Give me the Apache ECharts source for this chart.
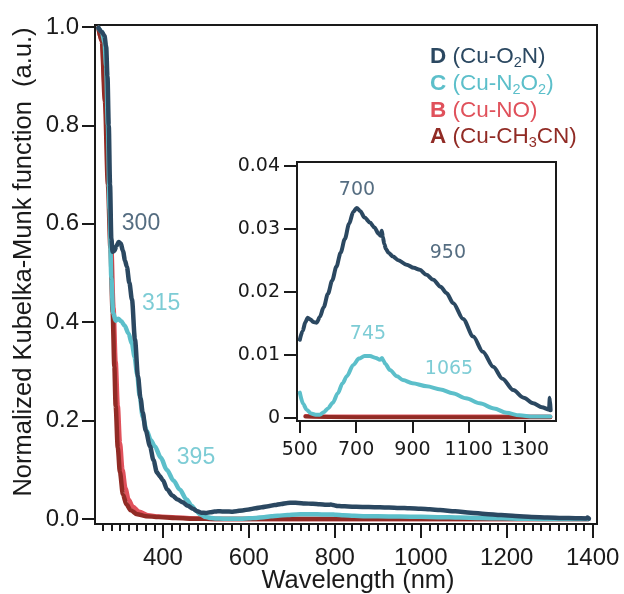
<!DOCTYPE html>
<html>
<head>
<meta charset="utf-8">
<script src="https://cdn.jsdelivr.net/npm/echarts@6/dist/echarts.min.js"></script>
<style>
  html, body { margin: 0; background: #fff; }
  #chart { width: 624px; height: 594px; }
</style>
</head>
<body>
<div id="chart"></div>
<script>
// Wavelengths (nm) and normalized K-M values
const dWave = [250, 258, 264, 268, 271, 274, 277, 280, 283, 287, 292, 297, 302, 307, 312, 316, 322, 328, 335, 342, 348, 353, 360, 370, 378, 386, 393, 400, 410, 422, 434, 446, 458, 470, 480, 490, 500, 510, 520, 528, 538, 548, 560, 571, 585, 600, 615, 630, 645, 660, 675, 690, 702, 715, 730, 749, 765, 780, 787, 791, 795, 800, 806, 815, 831, 850, 879, 905, 926, 950, 974, 1000, 1021, 1045, 1080, 1116, 1150, 1187, 1220, 1258, 1295, 1329, 1360, 1385, 1388, 1391];
const dValue = [0.998, 0.99, 0.982, 0.96, 0.9, 0.8, 0.68, 0.57, 0.543, 0.545, 0.555, 0.563, 0.56, 0.545, 0.525, 0.513, 0.48, 0.446, 0.365, 0.29, 0.245, 0.217, 0.18, 0.148, 0.12, 0.095, 0.087, 0.079, 0.06, 0.048, 0.04, 0.034, 0.027, 0.021, 0.016, 0.013, 0.0124, 0.0138, 0.0152, 0.0159, 0.0156, 0.0152, 0.0151, 0.016, 0.0176, 0.0197, 0.0218, 0.024, 0.0262, 0.0284, 0.0308, 0.0327, 0.0333, 0.0328, 0.0318, 0.031, 0.0302, 0.0292, 0.0289, 0.0297, 0.0287, 0.0276, 0.0268, 0.0262, 0.0256, 0.025, 0.0243, 0.0238, 0.0235, 0.0227, 0.0219, 0.0208, 0.0198, 0.0182, 0.0157, 0.0129, 0.0105, 0.0081, 0.0062, 0.0044, 0.0032, 0.0023, 0.0017, 0.0013, 0.0032, 0.0012];

const cWave = [250, 258, 264, 268, 272, 276, 280, 284, 290, 296, 303, 311, 320, 328, 334, 340, 346, 353, 362, 372, 381, 395, 409, 425, 439, 455, 467, 477, 486, 500, 512, 524, 540, 556, 571, 585, 600, 617, 635, 652, 667, 690, 710, 730, 749, 770, 785, 792, 797, 803, 820, 845, 866, 900, 951, 1000, 1043, 1090, 1139, 1190, 1234, 1280, 1328, 1360, 1390];
const cValue = [0.998, 0.99, 0.97, 0.92, 0.8, 0.63, 0.49, 0.42, 0.403, 0.407, 0.402, 0.393, 0.377, 0.356, 0.33, 0.295, 0.25, 0.208, 0.18, 0.16, 0.148, 0.125, 0.1, 0.078, 0.06, 0.04, 0.027, 0.017, 0.01, 0.004, 0.0022, 0.0013, 0.0007, 0.0005, 0.0005, 0.0009, 0.0015, 0.0024, 0.0039, 0.0055, 0.0066, 0.0084, 0.0094, 0.0098, 0.0098, 0.0095, 0.0092, 0.0095, 0.0091, 0.0086, 0.0076, 0.0066, 0.006, 0.0055, 0.005, 0.0045, 0.0039, 0.0031, 0.0023, 0.0015, 0.0008, 0.0004, 0.0002, 0.0002, 0.0002];

const bWave = [250, 258, 266, 273, 280, 285, 290, 295, 300, 306, 313, 320, 330, 345, 365, 390, 430, 480, 520, 700, 1000, 1390];
const bValue = [0.998, 0.97, 0.86, 0.7, 0.55, 0.43, 0.32, 0.23, 0.155, 0.1, 0.062, 0.04, 0.025, 0.015, 0.008, 0.005, 0.003, 0.0012, 0.0003, 0.0002, 0.0002, 0.0002];

const aWave = [250, 258, 265, 272, 278, 283, 287, 290, 295, 300, 307, 315, 325, 340, 360, 390, 430, 480, 520, 700, 1000, 1390];
const aValue = [0.998, 0.97, 0.85, 0.68, 0.55, 0.42, 0.31, 0.23, 0.145, 0.095, 0.05, 0.03, 0.018, 0.01, 0.006, 0.004, 0.002, 0.0008, 0.0002, 0.0001, 0.0001, 0.0001];

// Tick labels
const mainXTicks = [400, 600, 800, 1000, 1200, 1400];
const mainYTicks = [0, 0.2, 0.4, 0.6, 0.8, 1.0];
const insetXTicks = [500, 700, 900, 1100, 1300];
const insetYTicks = [0, 0.01, 0.02, 0.03, 0.04];

// Peak annotations: [wavelength, value, text, series]
const mainNotes = [[349, 0.6, '300', 'D'], [396, 0.437, '315', 'C'], [477, 0.124, '395', 'C']];
const insetNotes = [[703, 0.0362, '700', 'D'], [1026, 0.0262, '950', 'D'], [742, 0.0133, '745', 'C'], [1030, 0.0078, '1065', 'C']];

const colors = { D: '#2b4861', C: '#5cbfca', B: '#e0515b', A: '#912b25' };
const ink = '#1a1a1a';
const mainFont = '"Liberation Sans", Arial, sans-serif';
const insetFont = '"DejaVu Sans", sans-serif';

const minorTicks = [];
for (let w = 260; w <= 1400; w += 20) minorTicks.push(w);

const pairs = (w, v) => w.map((x, i) => [x, v[i]]);
const insetPart = (w, v) => pairs(w, v).filter(p => p[0] >= 500);

const chart = echarts.init(document.getElementById('chart'), null, { renderer: 'canvas' });

const line = (data, color, width, xi, yi, z) => ({
  type: 'line',
  xAxisIndex: xi,
  yAxisIndex: yi,
  data,
  symbol: 'none',
  smooth: 0.3,
  smoothMonotone: 'x',
  lineStyle: { color, width, cap: 'round', join: 'round' },
  z,
  silent: true
});

const notes = (list, xi, yi, font, size) => ({
  type: 'scatter',
  xAxisIndex: xi,
  yAxisIndex: yi,
  symbolSize: 1,
  itemStyle: { color: 'transparent' },
  silent: true,
  z: 10,
  data: list.map(n => ({
    value: [n[0], n[1]],
    label: {
      show: true, position: 'inside', formatter: n[2],
      color: colors[n[3]], fontSize: size, fontFamily: font
    }
  }))
});

const axisLineStyle = { show: true, onZero: false, lineStyle: { color: ink, width: 2 } };
const plain = v => String(v);

const legendRows = [
  ['D', '{k|D}{t| (Cu-O}{s|2}{t|N)}'],
  ['C', '{k|C}{t| (Cu-N}{s|2}{t|O}{s|2}{t|)}'],
  ['B', '{k|B}{t| (Cu-NO)}'],
  ['A', '{k|A}{t| (Cu-CH}{s|3}{t|CN)}']
];

const legendText = (row, i) => {
  const c = colors[row[0]];
  return {
    type: 'text',
    x: 430,
    y: 57 + i * 26.7,
    z: 20,
    style: {
      text: row[1],
      fill: c,
      verticalAlign: 'middle',
      rich: {
        k: { fontSize: 22.5, fontWeight: 'bold', fontFamily: mainFont, fill: c },
        t: { fontSize: 22.5, fontFamily: mainFont, fill: c },
        s: { fontSize: 14.5, fontFamily: mainFont, fill: c, padding: [12, 0, 0, 0] }
      }
    }
  };
};

const axisTitle = (text, x, y, rotation) => ({
  type: 'text',
  x, y, rotation,
  z: 20,
  style: {
    text,
    fill: ink,
    font: '25.5px "Liberation Sans", Arial, sans-serif',
    align: 'center',
    verticalAlign: 'middle'
  }
});

const option = {
  animation: false,
  backgroundColor: '#fff',
  grid: [
    { left: 95, top: 25, width: 502, height: 499, show: true, borderColor: ink, borderWidth: 2, outerBoundsMode: 'none', containLabel: false },
    { left: 297, top: 162, width: 259, height: 259, show: true, borderColor: ink, borderWidth: 2, backgroundColor: '#fff', outerBoundsMode: 'none', containLabel: false }
  ],
  xAxis: [
    {
      gridIndex: 0, type: 'value', min: 242, max: 1410, position: 'bottom',
      axisLine: axisLineStyle,
      axisTick: { show: true, length: 14, customValues: mainXTicks, lineStyle: { color: ink, width: 2 } },
      axisLabel: { customValues: mainXTicks, color: ink, fontSize: 24, fontFamily: mainFont, margin: 22, formatter: plain },
      splitLine: { show: false }
    },
    {
      gridIndex: 0, type: 'value', min: 242, max: 1410, position: 'bottom',
      axisLine: { show: false, onZero: false },
      axisTick: { show: true, length: 7, customValues: minorTicks, lineStyle: { color: ink, width: 2 } },
      axisLabel: { show: false },
      splitLine: { show: false }
    },
    {
      gridIndex: 1, type: 'value', min: 490, max: 1410, position: 'bottom',
      axisLine: axisLineStyle,
      axisTick: { show: true, length: 12, customValues: insetXTicks, lineStyle: { color: ink, width: 2 } },
      axisLabel: { customValues: insetXTicks, color: ink, fontSize: 19, fontFamily: insetFont, margin: 20, formatter: plain },
      splitLine: { show: false }
    }
  ],
  yAxis: [
    {
      gridIndex: 0, type: 'value', min: -0.01, max: 1.004,
      axisLine: axisLineStyle,
      axisTick: { show: true, length: 13, customValues: mainYTicks, lineStyle: { color: ink, width: 2 } },
      axisLabel: {
        customValues: mainYTicks, color: ink, fontSize: 24, fontFamily: mainFont, margin: 16,
        formatter: v => v.toFixed(1)
      },
      splitLine: { show: false }
    },
    {
      gridIndex: 1, type: 'value', min: -0.0005, max: 0.0406,
      axisLine: axisLineStyle,
      axisTick: { show: true, length: 13, customValues: insetYTicks, lineStyle: { color: ink, width: 2 } },
      axisLabel: {
        customValues: insetYTicks, color: ink, fontSize: 19, fontFamily: insetFont, margin: 17,
        formatter: v => (v === 0 ? '0' : v.toFixed(2))
      },
      splitLine: { show: false }
    }
  ],
  series: [
    line(pairs(bWave, bValue), colors.B, 4.5, 0, 0, 2),
    line(pairs(aWave, aValue), colors.A, 4.5, 0, 0, 3),
    line(pairs(cWave, cValue), colors.C, 4.5, 0, 0, 4),
    line(pairs(dWave, dValue), colors.D, 4.5, 0, 0, 5),
    line(insetPart(bWave, bValue), colors.B, 4, 2, 1, 6),
    line(insetPart(aWave, aValue), colors.A, 4, 2, 1, 7),
    line(insetPart(cWave, cValue), colors.C, 4, 2, 1, 8),
    line(insetPart(dWave, dValue), colors.D, 4, 2, 1, 9),
    notes(mainNotes, 0, 0, mainFont, 23),
    notes(insetNotes, 2, 1, insetFont, 19)
  ],
  graphic: [
    axisTitle('Normalized Kubelka-Munk function  (a.u.)', 24, 262, Math.PI / 2),
    axisTitle('Wavelength (nm)', 358, 581, 0)
  ].concat(legendRows.map(legendText))
};

chart.setOption(option);
</script>
</body>
</html>
